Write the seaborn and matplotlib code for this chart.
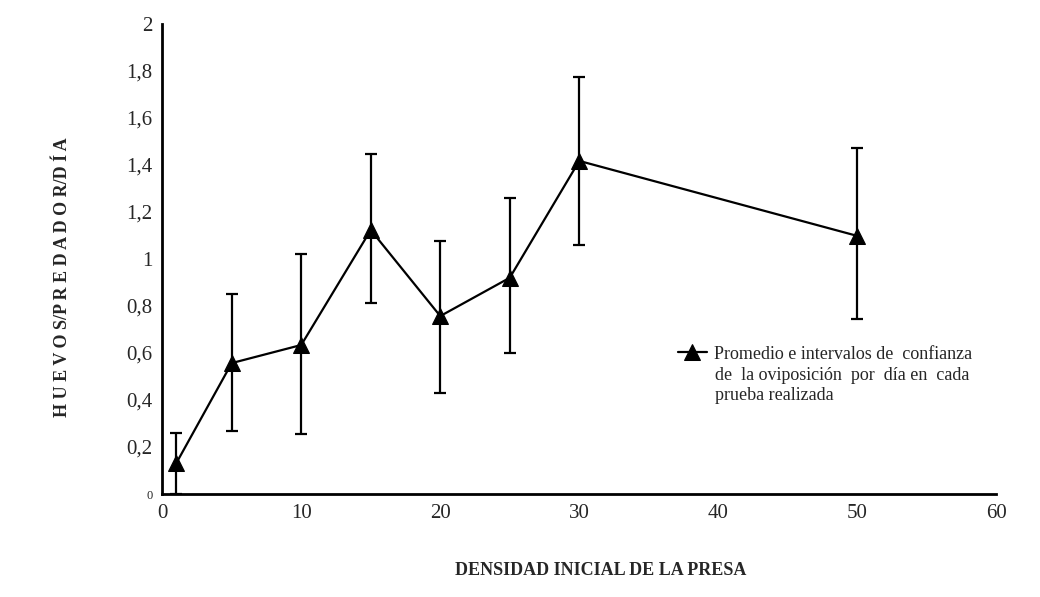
import numpy as np
import matplotlib
matplotlib.use("Agg")
import matplotlib.pyplot as plt
import seaborn as sns

# densidad inicial de la presa y oviposicion (huevos/predador/dia)
density = [1, 5, 10, 15, 20, 25, 30, 50]
mean_eggs = [0.13, 0.557, 0.634, 1.123, 0.757, 0.92, 1.417, 1.098]
ci_low = [0.0, 0.268, 0.255, 0.814, 0.43, 0.60, 1.06, 0.745]
ci_high = [0.26, 0.85, 1.02, 1.447, 1.078, 1.26, 1.775, 1.47]

y_ticks = [0, 0.2, 0.4, 0.6, 0.8, 1.0, 1.2, 1.4, 1.6, 1.8, 2.0]
y_tick_labels = ["0", "0,2", "0,4", "0,6", "0,8", "1", "1,2", "1,4", "1,6", "1,8", "2"]
x_ticks = [0, 10, 20, 30, 40, 50, 60]

sns.set_style("white")
plt.rcParams['font.family'] = ['Liberation Serif', 'DejaVu Serif']

fig = plt.figure(figsize=(10.4, 5.97), dpi=100)
ax = fig.add_axes([0.156, 0.1725, 0.802, 0.7875])

mean_eggs = np.array(mean_eggs)
yerr = [mean_eggs - np.array(ci_low), np.array(ci_high) - mean_eggs]
ax.errorbar(density, mean_eggs, yerr=yerr, fmt='none', ecolor='black',
            elinewidth=1.6, capsize=4, capthick=1.6, zorder=2)
sns.lineplot(x=density, y=mean_eggs, ax=ax, color='black', linewidth=1.6,
             marker='^', markersize=12, markeredgecolor='black',
             label="Promedio e intervalos de  confianza", zorder=3)

ax.set_xlim(0, 60)
ax.set_ylim(0, 2)
ax.set_xticks(x_ticks)
ax.set_xticklabels([str(v) for v in x_ticks], fontsize=15)
ax.set_yticks(y_ticks)
ax.set_yticklabels(y_tick_labels, fontsize=15)
ax.get_yticklabels()[0].set_fontsize(9)

for side in ['top', 'right']:
    ax.spines[side].set_visible(False)
for side in ['left', 'bottom']:
    ax.spines[side].set_color('black')
    ax.spines[side].set_linewidth(2)
ax.tick_params(axis='both', direction='out', length=5, width=1.5, color='black', pad=2)

fig.text(0.06, 0.535, "H U E V O S/P R E D A D O R/D Í A", rotation=90,
         ha='center', va='center', fontsize=13, fontweight='bold')
fig.text(0.578, 0.045, "DENSIDAD INICIAL DE LA PRESA", ha='center', va='center',
         fontsize=13, fontweight='bold')

ax.legend(loc='upper left', bbox_to_anchor=(0.645, 0.433), bbox_transform=fig.transFigure,
          frameon=False, fontsize=13, handlelength=1.6, handletextpad=0.4,
          borderaxespad=0)
# resto del texto de la leyenda, alineado con la primera linea
fig.text(0.6875, 0.354, "de  la oviposición  por  día en  cada\nprueba realizada",
         ha='left', va='center', fontsize=13, linespacing=1.2)

fig.savefig("out.png", dpi=100)
